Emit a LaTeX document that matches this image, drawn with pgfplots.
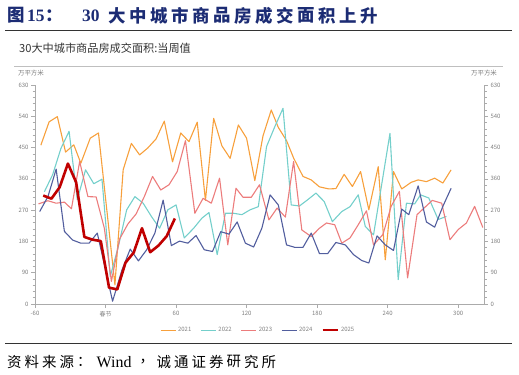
\documentclass[border=0pt]{standalone}
\usepackage{fontspec}
\setmainfont{Noto Sans CJK SC}
\newfontfamily\serifl{Liberation Serif}
\usepackage{pgfplots}
\pgfplotsset{compat=1.18}
\definecolor{c21}{HTML}{F7A03C}
\definecolor{c22}{HTML}{74CFCB}
\definecolor{c23}{HTML}{EC7C7C}
\definecolor{c24}{HTML}{525E9E}
\definecolor{c25}{HTML}{C00000}
\definecolor{axg}{HTML}{ABABAB}
\definecolor{txg}{HTML}{808080}
\definecolor{navy}{HTML}{1C2C74}
\begin{document}
\begin{tikzpicture}[x=1bp,y=1bp]
\path[use as bounding box] (0,0) rectangle (519,374);
% header
\node[anchor=west,inner sep=0,text=navy,font=\fontsize{17.5}{18}\selectfont\bfseries] at (7,358.5) {图};
\node[anchor=west,inner sep=0,text=navy,font=\fontsize{17.5}{18}\selectfont\bfseries\serifl] at (27,358.5) {15};
\node[anchor=west,inner sep=0,text=navy,font=\fontsize{17.5}{18}\selectfont\bfseries] at (45,358.5) {：};
\node[anchor=west,inner sep=0,text=navy,font=\fontsize{17.5}{18}\selectfont\bfseries\serifl] at (82,358.5) {30};
\foreach \c [count=\i from 0] in {大,中,城,市,商,品,房,成,交,面,积,上,升}
  \node[anchor=west,inner sep=0,text=navy,font=\fontsize{17.5}{18}\selectfont\bfseries] at (108+21*\i,358.5) {\c};
\draw[line width=1.2bp,color=black!80] (5,343.3) -- (512,343.3);
% chart title
\node[anchor=west,inner sep=0,text=black!80,font=\fontsize{11.2}{12}\selectfont] at (19,325.7) {30大中城市商品房成交面积:当周值};
\draw[line width=0.8bp,color=black!25] (14,308) -- (503,308);
% units
\node[inner sep=0,text=txg,font=\fontsize{6.5}{7}\selectfont] at (31,301) {万平方米};
\node[inner sep=0,text=txg,font=\fontsize{6.5}{7}\selectfont] at (484,301) {万平方米};
% footer
\draw[line width=1.2bp,color=black!80] (5,30.7) -- (512,30.7);
\foreach \c [count=\i from 0] in {资,料,来,源,：}
  \node[anchor=west,inner sep=0,font=\fontsize{14.5}{15}\selectfont] at (7+17.5*\i,12.3) {\c};
\node[anchor=west,inner sep=0,font=\fontsize{16}{16}\selectfont\serifl] at (96.5,12.3) {Wind};
\node[anchor=west,inner sep=0,font=\fontsize{14.5}{15}\selectfont] at (139.5,12.3) {，};
\foreach \c [count=\i from 0] in {诚,通,证,券,研,究,所}
  \node[anchor=west,inner sep=0,font=\fontsize{14.5}{15}\selectfont] at (156.5+17.5*\i,12.3) {\c};
% right axis
\begin{axis}[at={(35bp,70bp)},anchor=south west,scale only axis,width=449bp,height=219bp,
  xmin=-60,xmax=322,ymin=0,ymax=630,
  axis y line*=right, axis x line=none,
  ytick={0,90,...,630}, minor y tick num=4,
  tick align=outside, major tick length=4bp, minor tick length=2.5bp,
  y axis line style={axg,line width=0.7bp},
  ytick style={axg,line width=0.6bp},
  yticklabel style={font=\fontsize{6}{7}\selectfont,text=txg,xshift=-1bp},
  /pgf/number format/assume math mode=true]
\addplot[draw=none] coordinates {(0,0)};
\end{axis}
% main axis
\begin{axis}[at={(35bp,70bp)},anchor=south west,scale only axis,width=449bp,height=219bp,
  xmin=-60,xmax=322,ymin=0,ymax=630,
  axis y line*=left, axis x line*=bottom,
  ytick={0,90,...,630}, minor y tick num=4,
  xtick={-60,0,60,120,180,240,300},
  xticklabels={-60,春节,60,120,180,240,300},
  tick align=outside, major tick length=4bp, minor tick length=2.5bp,
  axis line style={axg,line width=0.7bp},
  tick style={axg,line width=0.6bp},
  yticklabel style={font=\fontsize{6}{7}\selectfont,text=txg,xshift=1bp},
  xticklabel style={font=\fontsize{6}{7}\selectfont,text=txg},
  /pgf/number format/assume math mode=true,
  line join=round,
  legend columns=5,
  legend style={at={(0.497,-0.119)},anchor=center,draw=none,fill=none,
    font=\fontsize{6}{7}\selectfont,text=txg,
    /tikz/every even column/.append style={column sep=7bp}},
  legend image code/.code={\draw[#1] (0bp,0bp) -- (15bp,0bp);}
]
\addplot[c21,line width=1.1bp] coordinates {
(-55,457)(-48,524)(-41,539)(-34,437)(-27,458)(-21,405)(-13,477)(-6,492)
(8,55)(15,386)(22,462)(29,429)(36,449)(43,475)(50,526)(57,409)(64,492)
(71,467)(78,523)(85,298)(92,534)(99,455)(106,419)(113,515)(120,477)(127,355)
(134,484)(141,558)(147,508)(154,470)(160,420)(168,367)(175,357)(182,337)
(190,331)(196,332)(203,373)(210,338)(217,381)(224,271)(232,395)(238,127)
(245,381)(252,331)(260,350)(266,357)(273,352)(280,362)(287,348)(294,386)};
\addlegendentry{2021}
\addplot[c22,line width=1.1bp] coordinates {
(-52,323)(-45,372)(-38,447)(-31,497)(-24,300)(-17,386)(-10,346)(-3,359)
(4,79)(11,167)(18,271)(25,309)(32,290)(39,252)(46,218)(53,271)(60,285)
(67,190)(75,218)(82,247)(88,263)(95,142)(102,261)(109,261)(116,257)(123,271)
(130,280)(137,453)(144,510)(151,563)(158,285)(165,282)(172,300)(179,319)
(186,295)(193,237)(201,266)(208,280)(215,314)(221,223)(228,199)(235,345)
(242,491)(249,70)(256,290)(263,288)(268,314)(275,305)(283,243)(290,252)};
\addlegendentry{2022}
\addplot[c23,line width=1.1bp] coordinates {
(-57,288)(-49,297)(-42,290)(-35,293)(-29,274)(-22,410)(-15,309)(-8,308)
(-1,218)(5,65)(12,187)(19,230)(26,259)(33,309)(40,367)(47,328)(54,343)
(61,381)(68,470)(76,261)(83,304)(90,290)(97,362)(104,170)(111,333)(117,307)
(124,307)(131,343)(139,242)(146,276)(153,250)(160,410)(167,213)(175,194)
(182,218)(188,233)(195,228)(201,175)(208,190)(215,228)(222,268)(228,170)
(236,200)(243,281)(250,324)(257,75)(265,257)(271,276)(278,298)(286,290)
(293,185)(300,214)(307,233)(314,281)(321,220)};
\addlegendentry{2023}
\addplot[c24,line width=1.1bp] coordinates {
(-56,266)(-49,309)(-42,388)(-35,209)(-28,184)(-21,175)(-14,175)(-7,204)
(6,8)(14,98)(21,158)(28,124)(35,156)(42,204)(49,299)(56,168)(63,181)
(70,175)(77,197)(84,156)(91,151)(98,208)(105,201)(112,236)(119,175)(126,164)
(133,218)(140,314)(147,285)(154,170)(161,163)(168,163)(175,204)(182,145)
(189,145)(196,177)(204,170)(211,142)(218,125)(224,118)(231,196)(238,170)
(245,154)(252,273)(258,257)(266,340)(273,236)(280,221)(287,281)(294,333)};
\addlegendentry{2024}
\addplot[c25,line width=2.6bp] coordinates {
(-53,312)(-46,303)(-39,336)(-32,404)(-25,350)(-18,193)(-11,185)(-4,181)
(3,47)(10,42)(17,119)(24,148)(31,218)(38,149)(45,168)(52,195)(59,246)};
\addlegendentry{2025}
\end{axis}
\end{tikzpicture}
\end{document}
